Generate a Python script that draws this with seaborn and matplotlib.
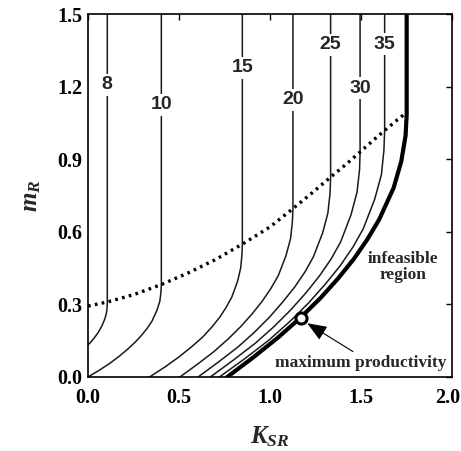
import matplotlib
matplotlib.use("Agg")
import matplotlib.pyplot as plt
import matplotlib.transforms as mtransforms
import seaborn as sns

sns.set_theme(style="white")
plt.rcParams['font.family'] = ['Liberation Serif', 'DejaVu Serif']
plt.rcParams['mathtext.fontset'] = 'custom'
plt.rcParams['mathtext.it'] = 'Liberation Serif:italic:bold'
plt.rcParams['mathtext.rm'] = 'Liberation Serif:bold'

# contour levels and their curves (K_SR, m_R)
levels = ["8", "10", "15", "20", "25", "30", "35"]
k8 = [0.0, 0.016, 0.032, 0.057, 0.077, 0.092, 0.100, 0.104, 0.1055, 0.106, 0.106]
m8 = [0.132, 0.145, 0.159, 0.185, 0.212, 0.239, 0.260, 0.278, 0.296, 0.310, 1.5]
k10 = [0.0, 0.062, 0.121, 0.172, 0.218, 0.258, 0.294, 0.325, 0.351, 0.379, 0.395, 0.401, 0.403, 0.403]
m10 = [0.0, 0.028, 0.057, 0.086, 0.115, 0.143, 0.172, 0.201, 0.230, 0.276, 0.314, 0.352, 0.383, 1.5]
k15 = [0.338, 0.422, 0.500, 0.568, 0.630, 0.680, 0.725, 0.760, 0.790, 0.822, 0.839, 0.846, 0.848, 0.848]
m15 = [0.0, 0.041, 0.083, 0.124, 0.165, 0.206, 0.248, 0.289, 0.330, 0.396, 0.451, 0.506, 0.550, 1.5]
k20 = [0.505, 0.600, 0.692, 0.770, 0.840, 0.902, 0.958, 1.005, 1.045, 1.088, 1.113, 1.123, 1.126, 1.126]
m20 = [0.0, 0.052, 0.105, 0.157, 0.209, 0.261, 0.314, 0.366, 0.418, 0.502, 0.572, 0.641, 0.697, 1.5]
k25 = [0.605, 0.717, 0.824, 0.916, 0.998, 1.070, 1.136, 1.192, 1.238, 1.289, 1.318, 1.330, 1.333, 1.333]
m25 = [0.0, 0.062, 0.124, 0.186, 0.248, 0.310, 0.372, 0.434, 0.496, 0.595, 0.677, 0.760, 0.826, 1.5]
k30 = [0.672, 0.799, 0.920, 1.023, 1.116, 1.199, 1.273, 1.336, 1.388, 1.445, 1.478, 1.492, 1.495, 1.495]
m30 = [0.0, 0.070, 0.140, 0.209, 0.279, 0.349, 0.419, 0.488, 0.558, 0.670, 0.763, 0.856, 0.930, 1.5]
k35 = [0.722, 0.862, 0.995, 1.110, 1.212, 1.303, 1.385, 1.455, 1.512, 1.575, 1.612, 1.626, 1.630, 1.630]
m35 = [0.0, 0.076, 0.153, 0.230, 0.306, 0.383, 0.459, 0.536, 0.612, 0.734, 0.836, 0.938, 1.020, 1.5]

# feasibility boundary (thick)
k_bound = [0.765, 0.908, 1.044, 1.166, 1.277, 1.374, 1.461, 1.536, 1.600, 1.679, 1.721, 1.745, 1.751, 1.751]
m_bound = [0.0, 0.081, 0.163, 0.244, 0.326, 0.407, 0.488, 0.570, 0.651, 0.781, 0.890, 0.998, 1.085, 1.5]

# dotted curve
k_dot = [0.0, 0.106, 0.25, 0.403, 0.55, 0.70, 0.85, 1.0, 1.128, 1.23, 1.333,
         1.42, 1.495, 1.57, 1.632, 1.70, 1.745]
m_dot = [0.293, 0.31, 0.34, 0.382, 0.43, 0.485, 0.55, 0.62, 0.697, 0.76, 0.826,
         0.88, 0.93, 0.98, 1.02, 1.063, 1.09]

# label positions on the vertical parts
label_m = [1.207, 1.124, 1.277, 1.145, 1.372, 1.194, 1.376]

# maximum productivity point
k_max = [1.17]
m_max = [0.243]

curves_k = [k8, k10, k15, k20, k25, k30, k35]
curves_m = [m8, m10, m15, m20, m25, m30, m35]

fig = plt.figure(figsize=(4.61, 4.51), dpi=100)
ax = fig.add_axes([88/461, 74/451, 364/461, 363/451])

for lev, ks, ms, lm in zip(levels, curves_k, curves_m, label_m):
    sns.lineplot(x=ks, y=ms, sort=False, estimator=None, ax=ax,
                 color='#1a1a1a', lw=1.1)
    ax.text(ks[-1], lm, lev, ha='center', va='center', fontsize=14,
            fontweight='bold', family=['Liberation Sans', 'DejaVu Sans'],
            bbox=dict(boxstyle='square,pad=0.12', fc='white', ec='none'),
            zorder=5)

sns.lineplot(x=k_bound, y=m_bound, sort=False, estimator=None, ax=ax,
             color='black', lw=3.0)
sns.lineplot(x=k_dot, y=m_dot, sort=False, estimator=None, ax=ax,
             color='black', lw=2.4, linestyle=(0, (0.8, 1.3)))

ax.plot(k_max, m_max, 'o', ms=8, mfc='white', mec='black', mew=2.2, zorder=6)

ax.annotate('', xy=(1.205, 0.222), xytext=(1.456, 0.105),
            arrowprops=dict(arrowstyle='-|>,head_length=1.0,head_width=0.4',
                            color='black', lw=0.8, shrinkA=0, shrinkB=0))
ax.text(1.50, 0.058, 'maximum productivity', ha='center', va='center',
        fontsize=12.5, fontweight='bold')
ax.text(1.73, 0.455, 'infeasible\nregion', ha='center', va='center',
        fontsize=12.5, fontweight='bold', linespacing=0.95)

ax.set_xlim(0, 2.0)
ax.set_ylim(0, 1.5)
ax.set_xticks([0.0, 0.5, 1.0, 1.5, 2.0])
ax.set_yticks([0.0, 0.3, 0.6, 0.9, 1.2, 1.5])
ax.set_xticklabels(['0.0', '0.5', '1.0', '1.5', '2.0'])
ax.set_yticklabels(['0.0', '0.3', '0.6', '0.9', '1.2', '1.5'])
ax.tick_params(direction='in', length=4, width=1, top=True, right=True,
               labelsize=14.5, pad=4, colors='black')
ax.tick_params(axis='x', pad=8)
for lab in ax.get_xticklabels() + ax.get_yticklabels():
    lab.set_fontweight('bold')
# keep the last x tick label inside the canvas
last = ax.get_xticklabels()[-1]
last.set_transform(last.get_transform() +
                   mtransforms.ScaledTranslation(-4/100, 0, fig.dpi_scale_trans))
for s in ax.spines.values():
    s.set_color('black')
    s.set_linewidth(1.2)

ax.set_xlabel('$K_{SR}$', fontsize=18, labelpad=12)
ax.set_ylabel('$m_R$', fontsize=18, labelpad=10)

fig.savefig('out.png', dpi=100)
